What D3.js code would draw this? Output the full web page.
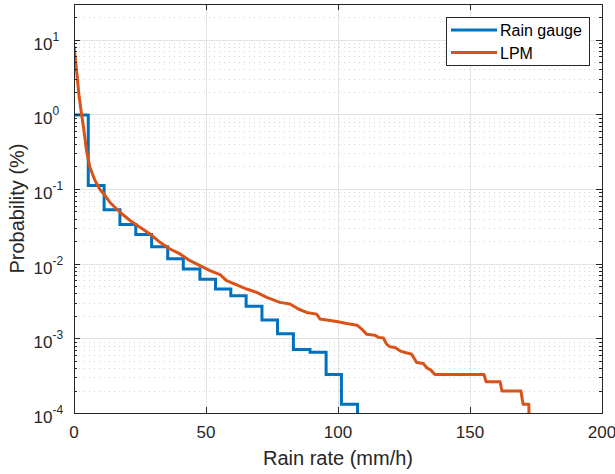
<!DOCTYPE html>
<html>
<head>
<meta charset="utf-8">
<script src="https://cdn.jsdelivr.net/npm/d3@7"></script>
<style>
  html, body { margin: 0; padding: 0; background: #fff; }
  svg { display: block; font-family: "Liberation Sans", Arial, Helvetica, sans-serif; }
</style>
</head>
<body>
<svg id="chart" width="615" height="474"></svg>
<script>
// Exceedance probability of rain rate: tipping-bucket rain gauge vs. laser precipitation monitor
const gaugeRate = [0, 5.4, 11.4, 17.4, 23.4, 29.4, 35.5, 41.4, 47.7, 53.6, 59.4, 65.2, 71.2, 77.1, 83.1, 89.4, 95.5, 101.3, 107.4];
const gaugeProb = [0.98, 0.111, 0.0526, 0.0334, 0.0245, 0.0169, 0.0116, 0.0085, 0.0062, 0.00457, 0.00372, 0.00269, 0.00176, 0.00115, 0.00071, 0.00065, 0.000328, 0.000131, 0.00001];

const lpmRate = [0, 0.57, 1.14, 1.89, 2.65, 3.6, 4.73, 6.06, 7.95, 9.85, 11.74, 13.64, 17.42, 21.21, 25.0, 28.79,
  32.58, 36.36, 40.15, 43.94, 47.73, 51.5, 55.3, 57.8, 61.4, 65.4, 69.2, 73.0, 78.0, 81.8, 85.0, 88.1, 91.9, 93.2,
  99.5, 103.3, 107.2, 109.0, 110.9, 114.0, 115.3, 117.2, 118.4, 119.7, 121.6, 123.5, 125.4, 127.9, 129.8, 132.3,
  133.8, 135.1, 136.7, 155.3, 156.1, 161.4, 162.1, 169.3, 170.1, 172.3, 172.5];
const lpmProb = [8.18, 5.31, 3.34, 1.8, 1.13, 0.67, 0.329, 0.194, 0.13, 0.0985, 0.0818, 0.0659, 0.0488, 0.0378, 0.0307, 0.025,
  0.0193, 0.0157, 0.0135, 0.01096, 0.0094, 0.00805, 0.00711, 0.00591, 0.00522, 0.00457, 0.00412, 0.00353, 0.00303, 0.00288, 0.00247, 0.00222, 0.00211, 0.00181,
  0.00168, 0.00158, 0.0015, 0.00133, 0.00113, 0.0011, 0.00103, 0.00101, 0.000836, 0.000769, 0.000753, 0.00068, 0.000645, 0.000614, 0.000473, 0.000459,
  0.000398, 0.000378, 0.000328, 0.000328, 0.000262, 0.000262, 0.000197, 0.000197, 0.000131, 0.000131, 0.00001];

const xTicks = [0, 50, 100, 150, 200];
const yDecades = [-4, -3, -2, -1, 0, 1];
const seriesNames = ["Rain gauge", "LPM"];
const seriesColors = ["#0072BD", "#D95319"];

const W = 615, H = 474;
const plot = { left: 74, right: 602, top: 4, bottom: 413 };
const axisColor = "#262626";

const svg = d3.select("#chart");
const x = d3.scaleLinear().domain([0, 200]).range([plot.left, plot.right]);
const y = d3.scaleLog().domain([1e-4, 30]).range([plot.bottom, plot.top]);

// minor values: 2..9 in each decade, within the domain
const minorVals = [];
for (let d = -4; d <= 1; d++) {
  for (let m = 2; m <= 9; m++) {
    const v = m * Math.pow(10, d);
    if (v <= 30) minorVals.push(v);
  }
}

// grid
const grid = svg.append("g");
grid.selectAll(".minor").data(minorVals).join("line")
  .attr("x1", plot.left).attr("x2", plot.right)
  .attr("y1", d => Math.round(y(d)) + 0.5).attr("y2", d => Math.round(y(d)) + 0.5)
  .attr("stroke", "#d4d4d4").attr("stroke-width", 1).attr("stroke-dasharray", "1,4");
grid.selectAll(".majorY").data(yDecades.map(d => Math.pow(10, d))).join("line")
  .attr("x1", plot.left).attr("x2", plot.right)
  .attr("y1", d => Math.round(y(d)) + 0.5).attr("y2", d => Math.round(y(d)) + 0.5)
  .attr("stroke", "#e3e3e3").attr("stroke-width", 1);
grid.selectAll(".majorX").data(xTicks.slice(1, -1)).join("line")
  .attr("x1", d => Math.round(x(d)) + 0.5).attr("x2", d => Math.round(x(d)) + 0.5)
  .attr("y1", plot.top).attr("y2", plot.bottom)
  .attr("stroke", "#e3e3e3").attr("stroke-width", 1);

// data lines
svg.append("clipPath").attr("id", "clip").append("rect")
  .attr("x", plot.left).attr("y", plot.top)
  .attr("width", plot.right - plot.left).attr("height", plot.bottom - plot.top);

const lines = svg.append("g").attr("clip-path", "url(#clip)");
const gaugeData = gaugeRate.map((r, i) => [r, gaugeProb[i]]);
const lpmData = lpmRate.map((r, i) => [r, lpmProb[i]]);

lines.append("path").datum(gaugeData)
  .attr("fill", "none").attr("stroke", seriesColors[0]).attr("stroke-width", 3)
  .attr("stroke-linejoin", "miter")
  .attr("d", d3.line().x(d => x(d[0])).y(d => y(d[1])).curve(d3.curveStepAfter));
lines.append("path").datum(lpmData)
  .attr("fill", "none").attr("stroke", seriesColors[1]).attr("stroke-width", 3)
  .attr("stroke-linejoin", "round")
  .attr("d", d3.line().x(d => x(d[0])).y(d => y(d[1])));

// axes box
const box = svg.append("g").attr("stroke", axisColor).attr("stroke-width", 1).attr("fill", "none");
box.append("rect")
  .attr("x", plot.left + 0.5).attr("y", plot.top + 0.5)
  .attr("width", plot.right - plot.left).attr("height", plot.bottom - plot.top);

// ticks (inward, mirrored on top and right)
const tk = svg.append("g").attr("stroke", axisColor).attr("stroke-width", 1);
xTicks.forEach(v => {
  const px = Math.round(x(v)) + 0.5;
  tk.append("line").attr("x1", px).attr("x2", px).attr("y1", plot.bottom).attr("y2", plot.bottom - 6);
  tk.append("line").attr("x1", px).attr("x2", px).attr("y1", plot.top).attr("y2", plot.top + 6);
});
yDecades.forEach(d => {
  const py = Math.round(y(Math.pow(10, d))) + 0.5;
  tk.append("line").attr("x1", plot.left).attr("x2", plot.left + 6).attr("y1", py).attr("y2", py);
  tk.append("line").attr("x1", plot.right).attr("x2", plot.right - 6).attr("y1", py).attr("y2", py);
});
minorVals.forEach(v => {
  const py = Math.round(y(v)) + 0.5;
  tk.append("line").attr("x1", plot.left).attr("x2", plot.left + 3).attr("y1", py).attr("y2", py);
  tk.append("line").attr("x1", plot.right).attr("x2", plot.right - 3).attr("y1", py).attr("y2", py);
});

// tick labels
const labels = svg.append("g").attr("fill", axisColor);
labels.selectAll(".xl").data(xTicks).join("text")
  .attr("x", d => x(d)).attr("y", 438)
  .attr("text-anchor", "middle").attr("font-size", 17)
  .text(d => d);

yDecades.forEach(d => {
  const py = y(Math.pow(10, d));
  labels.append("text")
    .attr("x", 52.5).attr("y", py + 10)
    .attr("text-anchor", "end").attr("font-size", 17).text("10");
  labels.append("text")
    .attr("x", 52.5).attr("y", py + 1)
    .attr("text-anchor", "start").attr("font-size", 12).text(d < 0 ? "-" + (-d) : String(d));
});

// axis titles
labels.append("text")
  .attr("x", x(100)).attr("y", 465)
  .attr("text-anchor", "middle").attr("font-size", 20)
  .text("Rain rate (mm/h)");
labels.append("text")
  .attr("transform", `translate(24,${(plot.top + plot.bottom) / 2}) rotate(-90)`)
  .attr("text-anchor", "middle").attr("font-size", 20)
  .text("Probability (%)");

// legend
const lg = svg.append("g");
lg.append("rect").attr("x", 446.5).attr("y", 17.5).attr("width", 143).attr("height", 48)
  .attr("fill", "#fff").attr("stroke", axisColor).attr("stroke-width", 1);
seriesNames.forEach((name, i) => {
  const cy = 30 + i * 22.5;
  lg.append("line").attr("x1", 451).attr("x2", 497).attr("y1", cy).attr("y2", cy)
    .attr("stroke", seriesColors[i]).attr("stroke-width", 3);
  lg.append("text").attr("x", 500).attr("y", cy + 6)
    .attr("font-size", 16).attr("fill", "#000").text(name);
});
</script>
</body>
</html>
